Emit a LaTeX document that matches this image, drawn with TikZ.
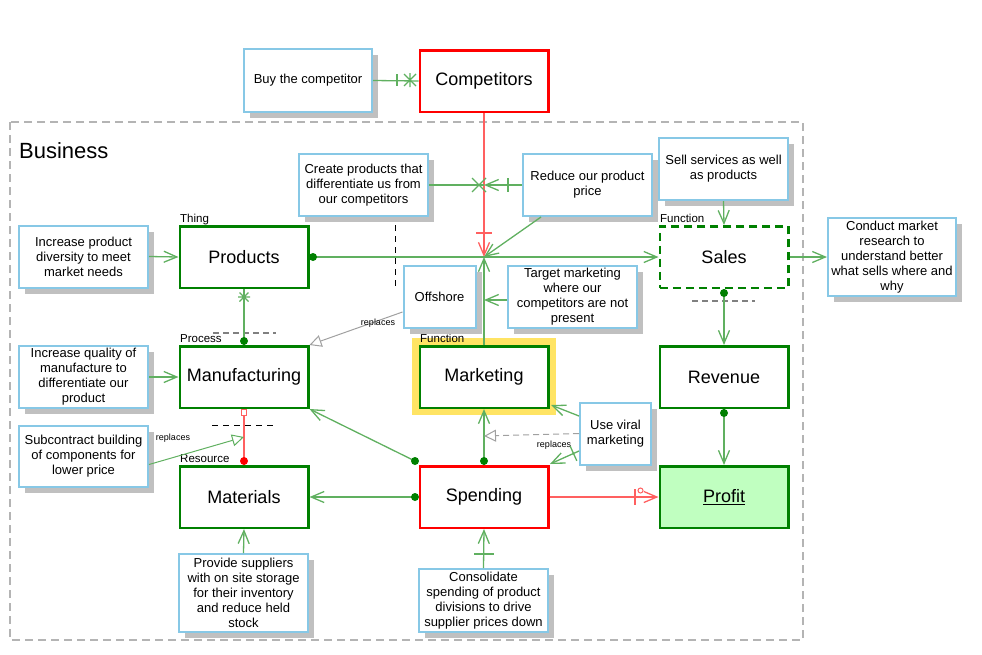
\documentclass[tikz,border=0pt]{standalone}
\usepackage{fontspec}
\setmainfont{Liberation Sans}
\usetikzlibrary{arrows.meta,shadows}
\definecolor{entG}{RGB}{0,128,0}
\definecolor{connG}{RGB}{96,176,96}
\definecolor{connR}{RGB}{255,96,96}
\definecolor{noteB}{RGB}{135,200,230}
\definecolor{shadowG}{RGB}{192,192,192}
\definecolor{hiY}{RGB}{255,228,100}
\definecolor{profitF}{RGB}{192,255,192}
\definecolor{bizG}{RGB}{180,180,180}
\definecolor{repG}{RGB}{160,160,160}
\begin{document}
\begin{tikzpicture}[x=1pt,y=-1pt,
  entity/.style={draw=entG, line width=2.5pt, fill=white, minimum width=128.5pt, minimum height=61.5pt, inner sep=0pt, font=\fontsize{18}{20}\selectfont},
  rentity/.style={entity, draw=red},
  note/.style={draw=noteB, line width=2pt, fill=white, align=center, inner sep=0pt, font=\fontsize{13}{15}\selectfont, drop shadow={shadow xshift=6pt, shadow yshift=-6pt, fill=shadowG, opacity=1}},
  tag/.style={font=\fontsize{11.5}{12}\selectfont, anchor=base west, inner sep=0pt},
  rep/.style={font=\fontsize{9}{10}\selectfont, inner sep=0pt},
  conn/.style={draw=connG, line width=1.3pt},
  rconn/.style={draw=connR, line width=1.3pt},
  barb/.style={-{Straight Barb[length=13pt,width=11pt]}},
  hollow/.style={-{Triangle[open,length=12pt,width=12pt,fill=white]}},
  sepdash/.style={line width=1.3pt, dash pattern=on 6pt off 4pt}
]
\useasboundingbox (0,0) rectangle (982,654);

% business frame
\draw[bizG, line width=1.5pt, dash pattern=on 8pt off 5pt] (10,122) rectangle (803,640);
\node[anchor=base west, inner sep=0pt, font=\fontsize{22}{24}\selectfont] (biz) at (19,158) {Business};

% highlight of Marketing
\fill[hiY] (412,338) rectangle (556,415);

% entities
\node[rentity] (comp) at (484,81) {Competitors};
\node[entity] (prod) at (244,257) {Products};
\node[entity, dash pattern=on 8pt off 5pt] (sales) at (724,257) {Sales};
\node[entity] (manu) at (244,377) {Manufacturing};
\node[entity] (mark) at (484,377) {Marketing};
\node[entity] (rev) at (724,377) {Revenue};
\node[entity] (mat) at (244,497) {Materials};
\node[rentity] (spend) at (484,497) {Spending};
\node[entity, fill=profitF] (profit) at (724,497) {\underline{Profit}};

% tags
\node[tag] (t1) at (180,222) {Thing};
\node[tag] (t2) at (660,222) {Function};
\node[tag] (t3) at (180,342) {Process};
\node[tag] (t4) at (420,342) {Function};
\node[tag] (t5) at (180,462) {Resource};

% notes
\node[note, minimum width=128pt, minimum height=63pt] (buy) at (308,80.5) {Buy the competitor};
\node[note, minimum width=129pt, minimum height=62pt] (create) at (363.5,185) {Create products that\\differentiate us from\\our competitors};
\node[note, minimum width=129pt, minimum height=62pt] (reduce) at (587.5,185) {Reduce our product\\price};
\node[note, minimum width=129pt, minimum height=62pt] (sell) at (723.5,169) {Sell services as well\\as products};
\node[note, minimum width=128pt, minimum height=78pt] (conduct) at (892,257) {Conduct market\\research to\\understand better\\what sells where and\\why};
\node[note, minimum width=129pt, minimum height=62pt] (incdiv) at (83.5,256.5) {Increase product\\diversity to meet\\market needs};
\node[note, minimum width=72pt, minimum height=62pt] (off) at (439.5,297) {Offshore};
\node[note, minimum width=129pt, minimum height=62pt] (target) at (572.5,297) {Target marketing\\where our\\competitors are not\\present};
\node[note, minimum width=129pt, minimum height=62pt] (incqual) at (83.5,377) {Increase quality of\\manufacture to\\differentiate our\\product};
\node[note, minimum width=129pt, minimum height=61pt] (subcon) at (83.5,456.5) {Subcontract building\\of components for\\lower price};
\node[note, minimum width=71pt, minimum height=62pt] (viral) at (615.5,433.5) {Use viral\\marketing};
\node[note, minimum width=129pt, minimum height=78pt] (provide) at (243.5,593) {Provide suppliers\\with on site storage\\for their inventory\\and reduce held\\stock};
\node[note, minimum width=129pt, minimum height=63pt] (consol) at (483.5,600.5) {Consolidate\\spending of product\\divisions to drive\\supplier prices down};

% coordinates
\coordinate (j) at (484,257);
\coordinate (c1) at (484,185);
\coordinate (r1) at (541,217);
\coordinate (tm) at (484,300);
\coordinate (s1) at (244,437);
\coordinate (sp1) at (415,461);
\coordinate (sp2) at (415,497);
\coordinate (v1) at (579,416);
\coordinate (mk1) at (551,405);
\coordinate (m1) at (484,436);
\coordinate (v3) at (579,451);
\coordinate (sp3) at (550,464);

% separators
\draw[black, line width=1pt, dash pattern=on 6pt off 5pt] (395,225) -- (395,289);
\draw[gray, sepdash] (213,333) -- (276,333);
\draw[black, line width=1pt, dash pattern=on 6pt off 5pt] (212,425) -- (277,425);
\draw[gray, sepdash] (692,301) -- (755,301);

% Buy -> Competitors
\draw[conn] (buy.east) -- (comp.west);
\draw[conn] (397,74) -- (397,86);
\draw[conn] (410,73) -- (410,87) (404,74) -- (416,86) (404,86) -- (416,74);

% Competitors -> junction
\draw[rconn, barb] (comp.south) -- (j);
\draw[rconn] (476,233) -- (492,233);

% Create / Reduce -> competitor line
\draw[conn] (create.east) -- (c1);
\draw[conn] (472,178) -- (486,192) (472,192) -- (486,178);
\draw[conn, barb] (reduce.west) -- (c1);
\draw[conn] (508,178) -- (508,192);
\draw[conn, barb] (r1) -- (j);

% Products -> Sales
\draw[conn, barb] (prod.east) -- (sales.west);
\fill[entG] (313,257) circle (4);

% Marketing -> junction
\draw[conn, barb] (mark.north) -- (j);
\draw[conn, barb] ([yshift=-3pt]target.west) -- (tm);

% Offshore replaces
\draw[repG, line width=1pt, hollow] ([yshift=-15pt]off.west) -- (manu.north east);
\node[rep] (rp1) at (378,323) {replaces};

% Products -> Manufacturing
\draw[conn] (prod.south) -- (manu.north);
\draw[conn] (244,291) -- (244,303) (238,297) -- (250,297) (239.5,292.5) -- (248.5,301.5) (239.5,301.5) -- (248.5,292.5);
\fill[entG] (244,341) circle (4);

% Manufacturing -> Materials
\draw[rconn] (manu.south) -- (mat.north);
\draw[connR, line width=1pt, fill=white] (241.5,409.5) rectangle (246.5,415);
\fill[red] (244,461) circle (4);

% Subcontract replaces
\draw[conn, line width=1pt, hollow] ([yshift=-8pt]subcon.east) -- (s1);
\node[rep] (rp2) at (173,438) {replaces};

% left notes
\draw[conn, barb] (incdiv.east) -- (prod.west);
\draw[conn, barb] (incqual.east) -- (manu.west);

% Sales
\draw[conn, barb] (sell.south) -- (sales.north);
\draw[conn, barb] (sales.east) -- (conduct.west);
\draw[conn, barb] (sales.south) -- (rev.north);
\fill[entG] (724,293) circle (4);
\draw[conn, barb] (rev.south) -- (profit.north);
\fill[entG] (724,413) circle (4);

% Spending
\draw[rconn, barb] (spend.east) -- (profit.west);
\draw[rconn] (635,489) -- (635,505);
\draw[connR, line width=1pt] (640.5,490.5) circle (2.5);
\draw[conn, barb] (spend.north) -- (mark.south);
\fill[entG] (484,461) circle (4);
\draw[conn, barb] (sp1) -- (manu.south east);
\fill[entG] (sp1) circle (4);
\draw[conn, barb] (sp2) -- (mat.east);
\fill[entG] (sp2) circle (4);
\draw[conn, barb] (consol.north) -- (spend.south);
\draw[conn] (474,554) -- (494,554);
\draw[conn, barb] (provide.north) -- (mat.south);

% viral
\draw[conn, barb] (v1) -- (mk1);
\draw[repG, line width=1pt, dash pattern=on 6pt off 4pt, hollow] (viral.west) -- (m1);
\node[rep] (rp3) at (554,445) {replaces};
\draw[conn, barb] (v3) -- (sp3);
\draw[conn] (570.2,446.2) -- (576.8,460.8);
\end{tikzpicture}
\end{document}
